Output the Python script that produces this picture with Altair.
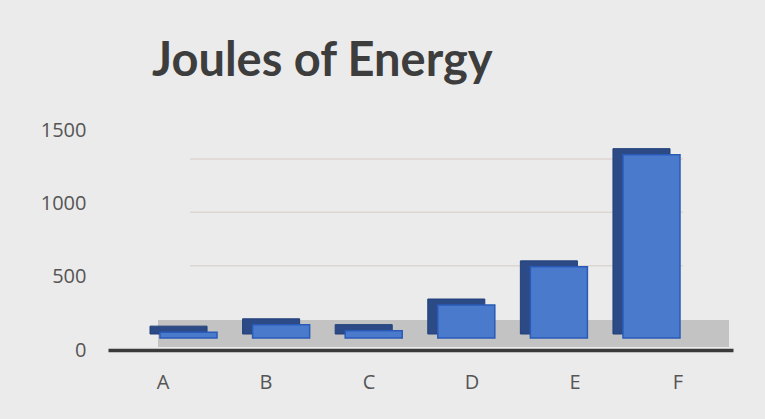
import altair as alt
import pandas as pd

categories = ["A", "B", "C", "D", "E", "F"]
joules = [40, 90, 50, 225, 485, 1250]
grid_values = [500, 1000, 1500]
y_ticks = [0, 500, 1000, 1500]

df = pd.DataFrame({"cat": categories, "value": joules})
grid_df = pd.DataFrame({"g": grid_values})

W, H = 625, 220

# category axis (label positions)
x_axis_enc = alt.X("cat:N", sort=categories,
                   scale=alt.Scale(paddingInner=0.45, paddingOuter=0.26),
                   axis=alt.Axis(title=None, labelAngle=0, ticks=False, domain=True,
                                 domainColor="#3a3a3a", domainWidth=3.5,
                                 labelFont="Open Sans", labelFontSize=20,
                                 labelColor="#555555", labelPadding=22))
# bars sit in a receding 3-D plane: slightly tighter spacing than the labels
x_bar_enc = alt.X("cat:N", sort=categories,
                  scale=alt.Scale(range=[52, 572], paddingInner=0.384, paddingOuter=0),
                  axis=None)

y_enc = alt.Y("value:Q", scale=alt.Scale(domain=[0, 1500], nice=False),
              axis=alt.Axis(title=None, values=y_ticks, grid=False, ticks=False,
                            domain=False, format="d", labelFont="Open Sans",
                            labelFontSize=20, labelColor="#555555", labelPadding=22))

# back-plane gridlines (perspective plane of the 3-D chart)
grid = alt.Chart(grid_df).mark_rule(color="#dcd6d2", strokeWidth=1.5).encode(
    y=alt.Y("g:Q", scale=alt.Scale(domain=[0, 1500], range=[189, 29]), axis=None),
    x=alt.value(82), x2=alt.value(W - 50),
)

# floor of the 3-D chart
floor = alt.Chart(df).mark_rect(color="#c3c3c3").encode(
    x=alt.value(50), x2=alt.value(W - 4),
    y=alt.value(190), y2=alt.value(H - 3),
)

# invisible layer carrying the category axis
axis_layer = alt.Chart(df).mark_tick(opacity=0).encode(
    x=x_axis_enc,
    y=alt.Y("value:Q", scale=alt.Scale(domain=[0, 1500], nice=False), axis=None),
)

side = alt.Chart(df).mark_bar(color="#2b4a86", stroke="#22407a", strokeWidth=1,
                              xOffset=-10, yOffset=-18, y2Offset=-16).encode(
    x=x_bar_enc, y=y_enc, y2=alt.datum(0)
)
front = alt.Chart(df).mark_bar(color="#4a7acb", stroke="#2a5bb8", strokeWidth=1.5,
                               yOffset=-12, y2Offset=-12).encode(
    x=x_bar_enc, y=y_enc, y2=alt.datum(0)
)

bars = alt.layer(side, front)

chart = alt.layer(grid, floor, axis_layer, bars).resolve_scale(
    y="independent", x="independent"
).properties(
    width=W, height=H,
    title=alt.TitleParams("Joules of Energy", anchor="start", frame="group", dx=44,
                          offset=34, font="Lato", fontSize=47, fontWeight="bold",
                          color="#3d3d3d"),
    autosize=alt.AutoSizeParams(type="none"),
    padding={"left": 108, "top": 130, "right": 32, "bottom": 69},
    background="#ebebeb",
).configure_view(stroke=None)

chart.save("out.html", embed_options={"renderer": "svg", "actions": False})
